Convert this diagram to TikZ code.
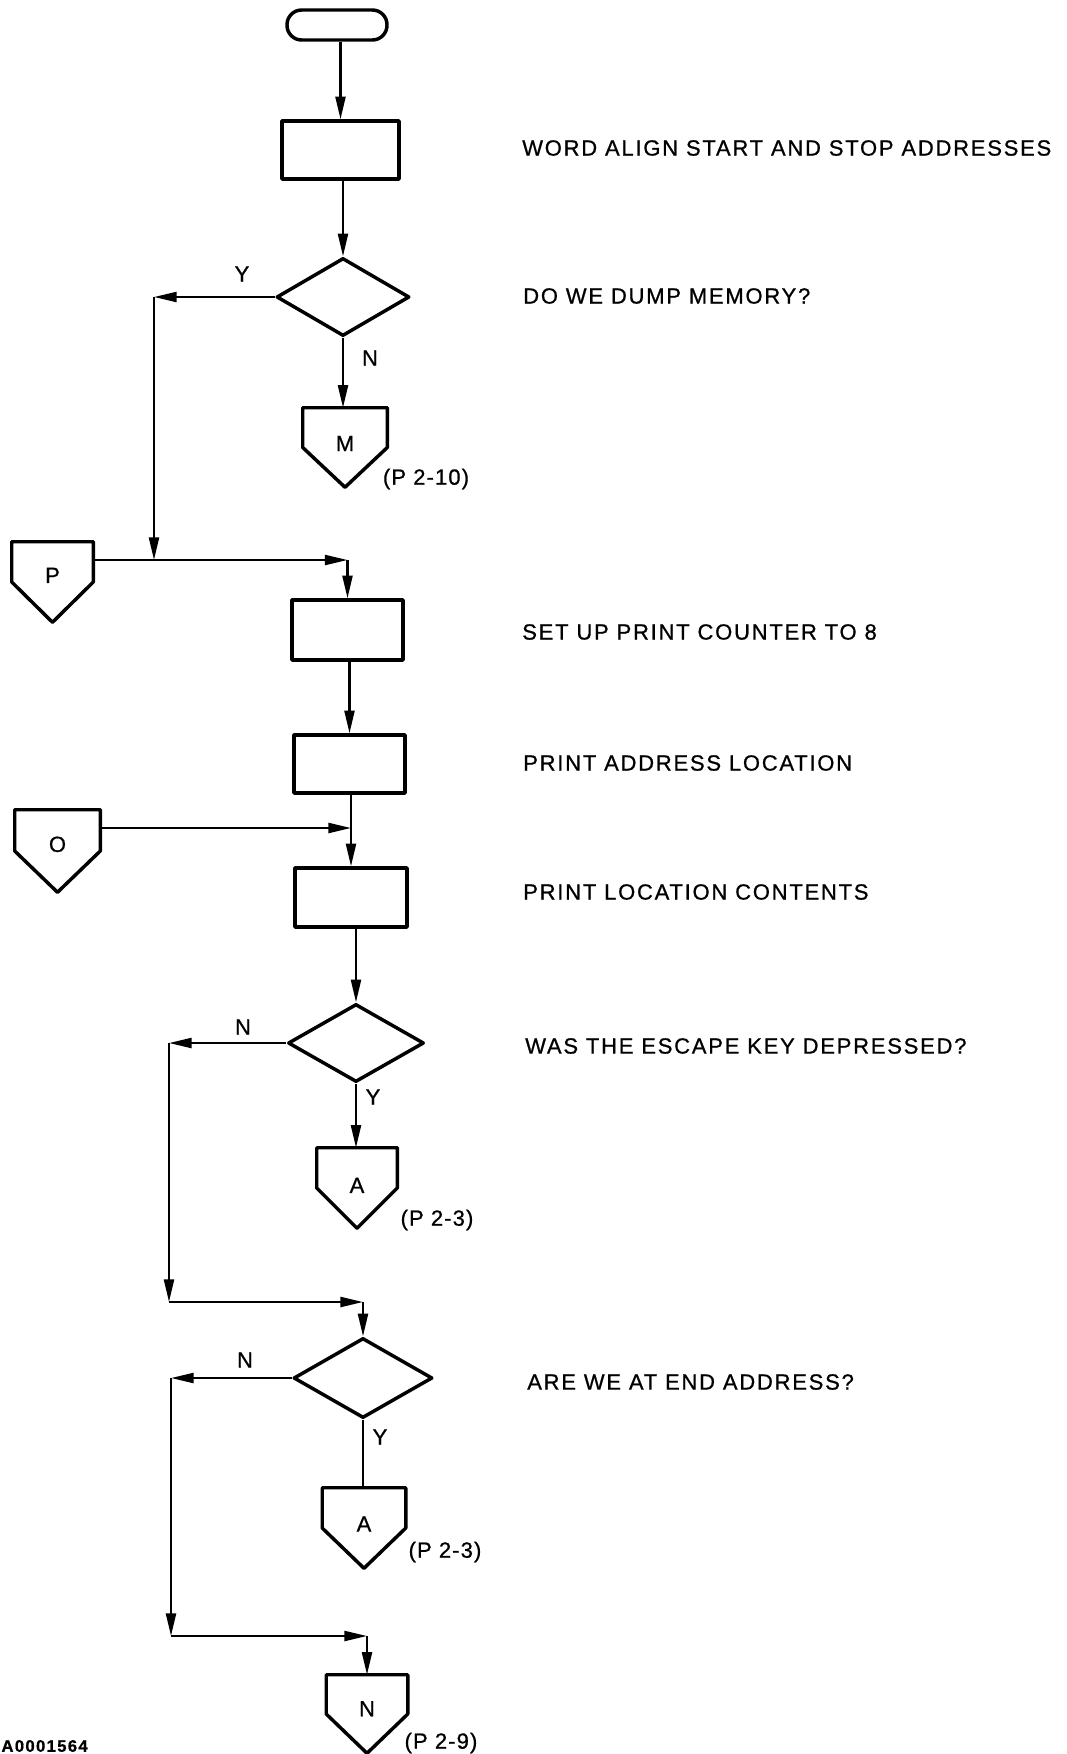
\documentclass[tikz,border=0pt]{standalone}
\usepackage{fontspec}
\setmainfont{Liberation Sans}[LetterSpace=8, FakeBold=0.8]
\newfontfamily\labfont{Liberation Sans}[LetterSpace=5, FakeBold=0.8]
\usetikzlibrary{shapes.geometric,arrows.meta,calc}
\tikzset{
  shapeline/.style={line width=2.6pt, line join=round},
  box/.style={draw, shapeline, rectangle, inner sep=0pt},
  dec/.style={draw, shapeline, diamond, inner sep=0pt},
  conn/.style={inner sep=0pt},
  flow/.style={line width=1.7pt},
  arr/.style={flow, -{Triangle[length=17pt,width=7.5pt]}},
  desc/.style={anchor=west, inner sep=0pt, font=\fontsize{16.5}{19}\selectfont},
  lab/.style={inner sep=0pt, font=\labfont\fontsize{16.5}{19}\selectfont},
}
\newcommand{\drawconn}[1]{\draw[shapeline] (#1.north west) -- (#1.north east) -- (#1.east) -- (#1.south) -- (#1.west) -- cycle;}
\begin{document}
\begin{tikzpicture}[x=0.75pt,y=-0.75pt]
\useasboundingbox (0,0) rectangle (1067,1754);
% shapes
\node[box, rounded corners=11pt, minimum width=75pt, minimum height=22.5pt] (term) at (337,25) {};
\node[box, minimum width=87.75pt, minimum height=43.5pt] (box1) at (340.5,150) {};
\node[dec, minimum width=99.75pt, minimum height=58.5pt] (d1) at (343,297) {};
\node[conn, minimum width=63pt, minimum height=59.25pt] (M) at (345,447.5) {};
\node[conn, minimum width=60.75pt, minimum height=60pt] (P) at (52.5,582) {};
\node[box, minimum width=83.25pt, minimum height=45pt] (box2) at (347.5,630) {};
\node[box, minimum width=83.25pt, minimum height=43.5pt] (box3) at (349.5,764) {};
\node[conn, minimum width=63.75pt, minimum height=61.5pt] (O) at (57.5,851) {};
\node[box, minimum width=84pt, minimum height=44.25pt] (box4) at (351,897.5) {};
\node[dec, minimum width=102pt, minimum height=58.5pt] (d2) at (356,1043) {};
\node[conn, minimum width=60pt, minimum height=60pt] (A1) at (357,1188) {};
\node[dec, minimum width=104.25pt, minimum height=60pt] (d3) at (363,1378) {};
\node[conn, minimum width=62.25pt, minimum height=60pt] (A2) at (364,1528) {};
\node[conn, minimum width=60.75pt, minimum height=58.5pt] (Nc) at (367,1714) {};
\drawconn{M}
\drawconn{P}
\drawconn{O}
\drawconn{A1}
\drawconn{A2}
\drawconn{Nc}
% connector letters
\node[lab] (Ml) at ([yshift=3pt]M.center) {M};
\node[lab] (Pl) at ([yshift=5pt]P.center) {P};
\node[lab] (Ol) at ([yshift=5pt]O.center) {O};
\node[lab] (A1l) at ([yshift=2pt]A1.center) {A};
\node[lab] (A2l) at ([yshift=3pt]A2.center) {A};
\node[lab] (Ncl) at ([yshift=4pt]Nc.center) {N};
% junction coordinates
\coordinate (c2) at (154,560);
\coordinate (c1) at (c2 |- d1.west);
\coordinate (c3) at (box2.north |- c2);
\coordinate (c4) at (box4.north |- 0,828);
\coordinate (c5) at (169,1043);
\coordinate (c6) at (169,1302);
\coordinate (c7) at (d3.north |- c6);
\coordinate (c8) at (171,1378);
\coordinate (c9) at (171,1636);
\coordinate (c10) at (Nc.north |- c9);
% connectors
\draw[arr] (box1.north |- term.south) -- (box1.north);
\draw[arr] (d1.north |- box1.south) -- (d1.north);
\draw[arr] (d1.west) -- (c1);
\draw[arr] (c1) -- (c2);
\draw[arr] (d1.south) -- (M.north -| d1.south);
\draw[arr] (P.north east |- c2) -- (c3);
\draw[arr] (c3) -- (box2.north);
\draw[arr] (box3.north |- box2.south) -- (box3.north);
\draw[arr] (box4.north |- box3.south) -- (box4.north);
\draw[arr] (O.north east |- c4) -- (c4);
\draw[arr] (d2.north |- box4.south) -- (d2.north);
\draw[arr] (d2.west) -- (c5);
\draw[arr] (c5) -- (c6);
\draw[arr] (c6) -- (c7);
\draw[arr] (c7) -- (d3.north);
\draw[arr] (d2.south) -- (A1.north -| d2.south);
\draw[arr] (d3.west) -- (c8);
\draw[arr] (c8) -- (c9);
\draw[arr] (c9) -- (c10);
\draw[arr] (c10) -- (Nc.north);
\draw[flow] (d3.south) -- (A2.north -| d3.south);
% branch labels
\node[lab] (ly1) at (242,274) {Y};
\node[lab] (ln1) at (370,358) {N};
\node[lab] (ln2) at (243,1027) {N};
\node[lab] (ly2) at (373,1097) {Y};
\node[lab] (ln3) at (245,1360) {N};
\node[lab] (ly3) at (380,1437) {Y};
% page references
\node[lab] (pM) at (426,479) {(P 2-10)};
\node[lab] (pA1) at (437,1220) {(P 2-3)};
\node[lab] (pA2) at (445,1552) {(P 2-3)};
\node[lab] (pN) at (441,1743) {(P 2-9)};
% descriptions
\node[desc] (t1) at (522,148) {WORD ALIGN START AND STOP ADDRESSES};
\node[desc] (t2) at (523,296) {DO WE DUMP MEMORY?};
\node[desc] (t3) at (522,632) {SET UP PRINT COUNTER TO 8};
\node[desc] (t4) at (523,763) {PRINT ADDRESS LOCATION};
\node[desc] (t5) at (523,892) {PRINT LOCATION CONTENTS};
\node[desc] (t6) at (525,1046) {WAS THE ESCAPE KEY DEPRESSED?};
\node[desc] (t7) at (527,1382) {ARE WE AT END ADDRESS?};
\node[anchor=east, inner sep=0pt, font=\bfseries\fontsize{12.5}{15}\selectfont] (fig) at (88,1746) {A0001564};
\end{tikzpicture}
\end{document}
